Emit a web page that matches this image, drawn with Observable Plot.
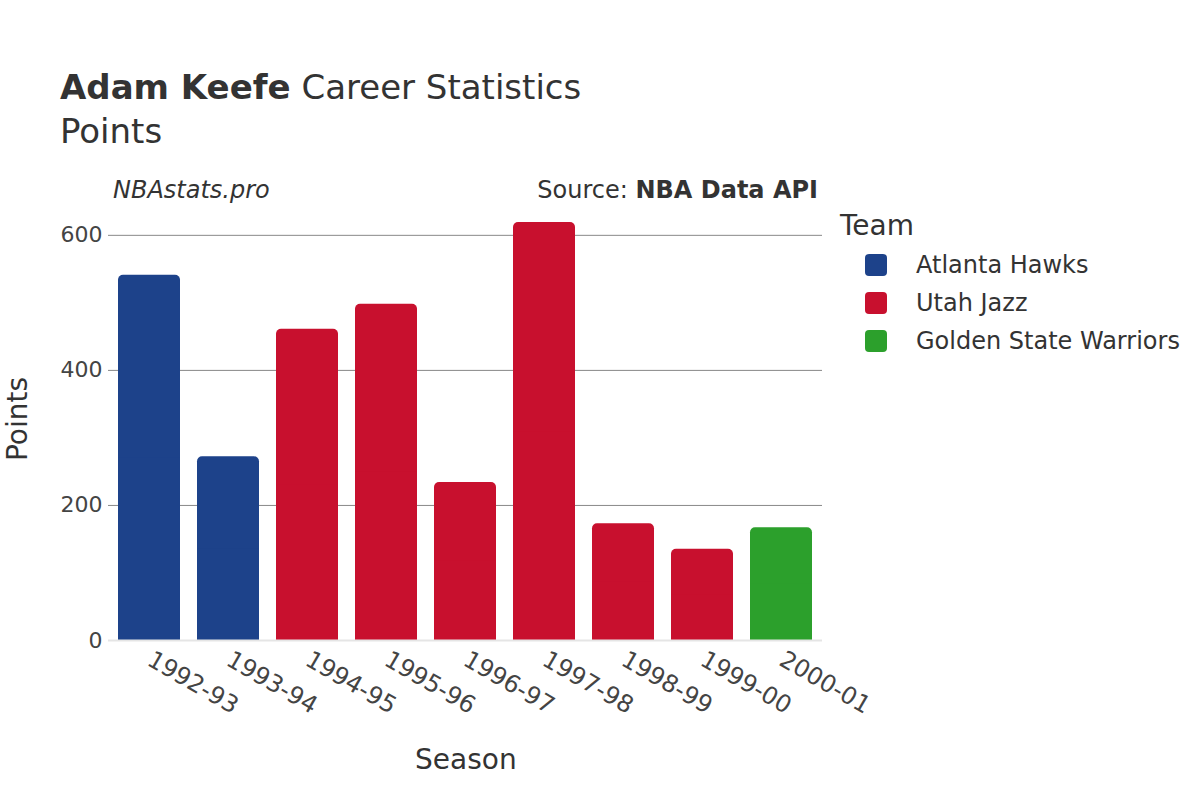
<!DOCTYPE html>
<html>
<head>
<meta charset="utf-8">
<script src="https://cdn.jsdelivr.net/npm/d3@7"></script>
<script src="https://cdn.jsdelivr.net/npm/@observablehq/plot@0.6"></script>
<style>
  html, body { margin: 0; padding: 0; background: #fff; }
  body { width: 1200px; height: 800px; position: relative; overflow: hidden; font-family: "DejaVu Sans", sans-serif; color: #333; }
  .t { position: absolute; white-space: nowrap; }
  #chart { position: absolute; left: 0; top: 0; }
</style>
</head>
<body>
<div id="chart"></div>
<div class="t" style="left:60px; top:67px; font-size:34px;"><b>Adam Keefe</b> Career Statistics</div>
<div class="t" style="left:60px; top:111px; font-size:34px;">Points</div>
<div class="t" style="left:113px; top:176px; font-size:24px; font-style:italic;">NBAstats.pro</div>
<div class="t" style="right:382px; top:176px; font-size:24px;">Source: <b>NBA Data API</b></div>
<div class="t" style="left:415px; top:743px; font-size:28px;">Season</div>
<div class="t" style="left:17px; top:419px; font-size:28px; transform: translate(-50%,-50%) rotate(-90deg);">Points</div>
<div id="legend" class="t" style="left:840px; top:209px;"></div>
<script>
const seasons = ["1992-93","1993-94","1994-95","1995-96","1996-97","1997-98","1998-99","1999-00","2000-01"];
const teams = ["Atlanta Hawks","Atlanta Hawks","Utah Jazz","Utah Jazz","Utah Jazz","Utah Jazz","Utah Jazz","Utah Jazz","Golden State Warriors"];
const points = [541, 272, 461, 498, 234, 619, 173, 135, 167];
const teamNames = ["Atlanta Hawks","Utah Jazz","Golden State Warriors"];
const teamColors = ["#1d428a","#c8102e","#2ca02c"];
const yTicks = [0, 200, 400, 600];

const data = seasons.map((s, i) => ({season: s, team: teams[i], points: points[i]}));

const chart = Plot.plot({
  width: 1200,
  height: 800,
  marginLeft: 108,
  marginRight: 378,
  marginTop: 200,
  marginBottom: 160,
  style: {fontFamily: "DejaVu Sans, sans-serif", fontSize: "22px", color: "#444", background: "transparent"},
  x: {domain: seasons, paddingInner: 0.22, paddingOuter: 0.11, label: null},
  y: {domain: [0, 651.6], label: null},
  color: {domain: teamNames, range: teamColors},
  marks: [
    Plot.gridY(yTicks, {stroke: "#888", strokeOpacity: 1, strokeWidth: 1}),
    Plot.barY(data, {x: "season", y: "points", fill: "team", rx: 5}),
    Plot.barY(data, {x: "season", y1: 0, y2: d => d.points / 2, fill: "team"}),
    Plot.axisY(yTicks, {tickSize: 0, tickPadding: 6, fontSize: 22, fill: "#444", label: null}),
    Plot.axisX({tickSize: 0, tickRotate: 30, tickPadding: 17, fontSize: 24, fill: "#444", label: null}),
    Plot.ruleY([0], {stroke: "#e5e5e5", strokeWidth: 2})
  ]
});
document.getElementById("chart").appendChild(chart);

const legend = document.getElementById("legend");
let html = '<div style="font-size:28px; margin-bottom:4px;">Team</div>';
teamNames.forEach((t, i) => {
  html += `<div style="display:flex; align-items:center; height:38px; font-size:24px;">
    <span style="display:inline-block; width:22px; height:22px; border-radius:4px; background:${teamColors[i]}; margin-left:25px; margin-right:29px;"></span>${t}</div>`;
});
legend.innerHTML = html;
</script>
</body>
</html>
